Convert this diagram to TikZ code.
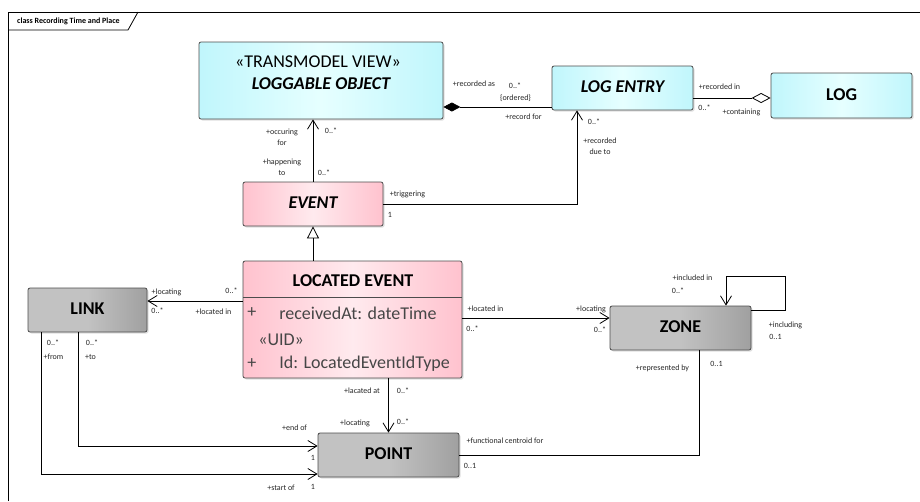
\documentclass[tikz,border=0pt]{standalone}
\usepackage{fontspec}
\setmainfont{Carlito}
\usetikzlibrary{arrows.meta,shadows}
\definecolor{box_cyan}{RGB}{192,246,252}
\definecolor{box_cyanmid}{RGB}{230,255,255}
\definecolor{box_pink}{RGB}{255,194,206}
\definecolor{box_pinkmid}{RGB}{255,234,238}
\definecolor{box_gray}{RGB}{160,160,160}
\definecolor{box_graymid}{RGB}{194,194,194}
\definecolor{attr_gray}{RGB}{70,70,70}

\begin{document}
\begin{tikzpicture}[x=1pt,y=-1pt,semithick,>={Straight Barb[length=9pt,width=11pt]}]
    \tikzstyle{clsbox}=[draw=black!70, rounded corners=2pt, line width=0.8pt, inner sep=0pt,
                     drop shadow={shadow xshift=1.5pt,shadow yshift=-1.5pt,opacity=0.25}]
    \tikzstyle{cyanbox}=[clsbox, left color=box_cyan, right color=box_cyan, middle color=box_cyanmid]
    \tikzstyle{pinkbox}=[clsbox, left color=box_pink, right color=box_pink, middle color=box_pinkmid]
    \tikzstyle{graybox}=[clsbox, left color=box_graymid, right color=box_gray, middle color=box_graymid]
    \tikzstyle{clsname}=[inner sep=0pt, text=black, font=\fontsize{18}{21}\selectfont\bfseries]
    \tikzstyle{attr}=[inner sep=0pt, anchor=west, text=attr_gray, font=\fontsize{18}{21}\selectfont]
    \tikzstyle{lbl}=[inner sep=0pt, align=center, text=black!85, font=\fontsize{8}{11}\selectfont]
    \tikzstyle{wire}=[line width=0.8pt]

    \useasboundingbox (0,0) rectangle (920,501);

    % frame
    \draw[wire] (8,501) -- (8,12) -- (920,12);
    \draw[wire] (8,30) -- (128,30) -- (138,12);
    \node[lbl, font=\fontsize{8}{10}\selectfont\bfseries, text=black] (frametitle) at (68.5,21.5) {class Recording Time and Place};

    % classes
    \node[cyanbox, minimum width=244pt, minimum height=77pt] (lobj)   at (321,80.5)  {};
    \node[clsname, font=\fontsize{18}{21}\selectfont] (lobjst) at (318,62) {«TRANSMODEL VIEW»};
    \node[clsname] (lobjname) at (321,84) {\itshape LOGGABLE OBJECT};
    \node[cyanbox, minimum width=141pt, minimum height=44pt] (lentry) at (622.5,88)  {};
    \node[clsname] (lentryname) at (622.5,87) {\itshape LOG ENTRY};
    \node[cyanbox, minimum width=141pt, minimum height=45pt] (log)    at (841.5,95.5) {};
    \node[clsname] (logname) at (841.5,95) {LOG};
    \node[pinkbox, minimum width=140pt, minimum height=44pt] (event)  at (313,204)   {};
    \node[clsname] (eventname) at (313,203) {\itshape EVENT};
    \node[pinkbox, minimum width=219pt, minimum height=117pt] (levent) at (352.5,319.5) {};
    \node[clsname] (leventname) at (353,281) {LOCATED EVENT};
    \draw[wire, black!70] (243,297) -- (462,297);
    \node[attr] (plus1) at (247,313) {+};
    \node[attr] (attr1) at (279,313) {receivedAt: dateTime};
    \node[attr] (uid)   at (258,340) {«UID»};
    \node[attr] (plus2) at (247,364) {+};
    \node[attr] (attr2) at (279,364) {Id: LocatedEventIdType};
    \node[graybox, minimum width=119pt, minimum height=44pt] (link)  at (87.5,310)  {};
    \node[clsname] (linkname) at (87.5,309) {LINK};
    \node[graybox, minimum width=141pt, minimum height=44pt] (zone)  at (680.5,328) {};
    \node[clsname] (zonename) at (680.5,327) {ZONE};
    \node[graybox, minimum width=141pt, minimum height=44pt] (point) at (388.5,455) {};
    \node[clsname] (pointname) at (388.5,454) {POINT};

    % connectors
    \coordinate (comp)  at ([yshift=-26.5pt]lobj.east);
    \coordinate (agg)   at ([yshift=-2.5pt]log.west);
    \coordinate (trg)   at ([xshift=-45.5pt]lentry.south);
    \coordinate (lk)    at ([yshift=18.5pt]levent.west);
    \coordinate (lz)    at ([yshift=10pt]zone.west);
    \coordinate (pend)  at ([yshift=9pt]point.west);
    \coordinate (pstart) at ([yshift=-19pt]point.west);
    \coordinate (zcen)  at ([xshift=18.5pt]zone.south);
    \path[wire]
     (event.north) edge[->] (event.north |- lobj.south)
     (comp) edge[{Diamond[length=17pt,width=9pt]}-] (comp -| lentry.west)
     (agg -| lentry.east) edge[-{Diamond[open,length=19pt,width=10pt]}] (agg)
     (event.south |- levent.north) edge[-{Triangle[open,length=12pt,width=12pt]}] (event.south)
     (lk) edge[->] (lk -| link.east)
     (lz -| levent.east) edge[->] (lz)
     (point.north |- levent.south) edge[->] (point.north)
     ;
    \draw[wire,->] (event.east) -| (trg);
    \draw[wire,->] ([xshift=-9.5pt]link.south) |- (pend);
    \draw[wire,->] ([xshift=-46.5pt]link.south) |- (pstart);
    \draw[wire] (point.east) -| (zcen);
    \draw[wire,->] ([yshift=18pt]zone.east) -- ++(34,0) -- ++(0,-34) -| ([xshift=45.5pt]zone.north);

    % role names and multiplicities
    \node[lbl] (occ)    at (282,137)   {+occuring\\for};
    \node[lbl] (occm)   at (331,131)   {0..*};
    \node[lbl] (hap)    at (282,167.5) {+happening\\to};
    \node[lbl] (hapm)   at (324,173)   {0..*};
    \node[lbl] (recas)  at (474,84)    {+recorded as};
    \node[lbl] (recasm) at (515,86)    {0..*};
    \node[lbl] (ord)    at (515.5,98)  {\{ordered\}};
    \node[lbl] (recfor) at (523.5,117) {+record for};
    \node[lbl] (duem)   at (594,122)   {0..*};
    \node[lbl] (due)    at (600,146)   {+recorded\\due to};
    \node[lbl] (trig)   at (407.5,194) {+triggering};
    \node[lbl] (trigm)  at (390,215)   {1};
    \node[lbl] (recin)  at (719.5,87)  {+recorded in};
    \node[lbl] (recinm) at (704.5,108) {0..*};
    \node[lbl] (cont)   at (741.5,112) {+containing};
    \node[lbl] (lkloc)  at (166.5,292) {+locating};
    \node[lbl] (lklocm) at (231.5,291) {0..*};
    \node[lbl] (lkinm)  at (157.5,311) {0..*};
    \node[lbl] (lkin)   at (213.5,312) {+located in};
    \node[lbl] (fromm)  at (53,343)    {0..*};
    \node[lbl] (from)   at (53.5,357)  {+from};
    \node[lbl] (tom)    at (92,343)    {0..*};
    \node[lbl] (to)     at (90.5,357)  {+to};
    \node[lbl] (endof)  at (294.5,428) {+end of};
    \node[lbl] (endm)   at (313,458)   {1};
    \node[lbl] (startof) at (281,488)  {+start of};
    \node[lbl] (startm) at (313,487)   {1};
    \node[lbl] (lat)    at (362,391)   {+lacated at};
    \node[lbl] (latm)   at (403,391)   {0..*};
    \node[lbl] (ptloc)  at (355,423)   {+locating};
    \node[lbl] (ptlocm) at (403,422)   {0..*};
    \node[lbl] (fcen)   at (505,441)   {+functional centroid for};
    \node[lbl] (fcenm)  at (470,466)   {0..1};
    \node[lbl] (zin)    at (485.5,309) {+located in};
    \node[lbl] (zinm)   at (472.5,329) {0..*};
    \node[lbl] (zloc)   at (591,309)   {+locating};
    \node[lbl] (zlocm)  at (600,330)   {0..*};
    \node[lbl] (incin)  at (692.5,278) {+included in};
    \node[lbl] (incinm) at (678,291)   {0..*};
    \node[lbl] (incl)   at (785.5,325) {+including};
    \node[lbl] (inclm)  at (775.5,337) {0..1};
    \node[lbl] (repby)  at (662.5,368) {+represented by};
    \node[lbl] (repbym) at (716.5,364) {0..1};
  \end{tikzpicture}
\end{document}
